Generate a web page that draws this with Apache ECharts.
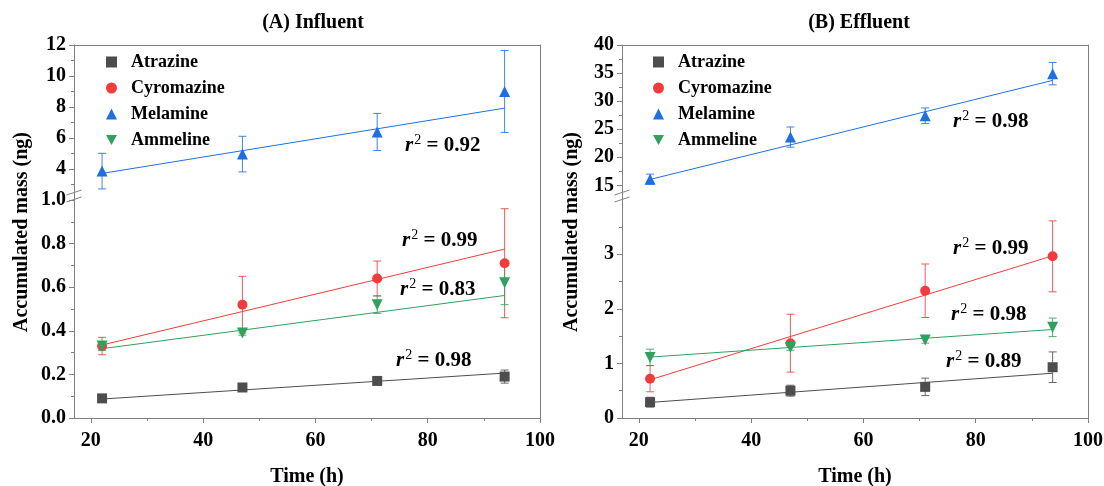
<!DOCTYPE html>
<html>
<head>
<meta charset="utf-8">
<script src="https://cdn.jsdelivr.net/npm/echarts@6/dist/echarts.min.js"></script>
<style>
  html, body { margin: 0; padding: 0; background: #fff; }
  #chart { width: 1104px; height: 486px; }
</style>
</head>
<body>
<div id="chart"></div>
<script>
// 数据
const names = ['Atrazine', 'Cyromazine', 'Melamine', 'Ammeline'];
const time = [22, 47, 71, 93.7];

// (A) Influent
const atrazineA = [0.09, 0.14, 0.17, 0.19];
const atrazineAErr = [0.01, 0.01, 0.01, 0.03];
const cyromazineA = [0.33, 0.52, 0.64, 0.71];
const cyromazineAErr = [0.04, 0.13, 0.08, 0.25];
const melamineA = [3.85, 4.95, 6.38, 9.0];
const melamineAErr = [1.15, 1.15, 1.2, 2.65];
const ammelineA = [0.33, 0.39, 0.52, 0.62];
const ammelineAErr = [0.02, 0.01, 0.04, 0.1];
// fit line values at first / last time
const fitA = [[0.087, 0.206], [0.335, 0.775], [3.7, 7.92], [0.318, 0.562]];
const r2A = ['0.98', '0.99', '0.92', '0.83'];

// (B) Effluent
const atrazineB = [0.29, 0.5, 0.57, 0.93];
const atrazineBErr = [0.09, 0.1, 0.16, 0.28];
const cyromazineB = [0.72, 1.37, 2.33, 2.96];
const cyromazineBErr = [0.24, 0.53, 0.49, 0.65];
const melamineB = [16.1, 23.6, 27.4, 34.9];
const melamineBErr = [0.9, 1.8, 1.4, 2.0];
const ammelineB = [1.11, 1.29, 1.43, 1.66];
const ammelineBErr = [0.15, 0.05, 0.06, 0.17];
const fitB = [[0.285, 0.82], [0.70, 2.97], [16.06, 33.7], [1.115, 1.62]];
const r2B = ['0.89', '0.99', '0.98', '0.98'];

// tick labels
const xTicks = [20, 40, 60, 80, 100];
const xMinor = [30, 50, 70, 90];
const yTicksAUp = [4, 6, 8, 10, 12];
const yMinorAUp = [3, 5, 7, 9, 11];
const yTicksALow = [0, 0.2, 0.4, 0.6, 0.8, 1.0];
const yMinorALow = [0.1, 0.3, 0.5, 0.7, 0.9];
const yTicksBUp = [15, 20, 25, 30, 35, 40];
const yMinorBUp = [17.5, 22.5, 27.5, 32.5, 37.5];
const yTicksBLow = [0, 1, 2, 3];
const yMinorBLow = [0.5, 1.5, 2.5, 3.5];

const COLORS = ['#4d4d4d', '#f03c3c', '#1f6fe0', '#2fa05d'];
const SYMBOLS = ['rect', 'circle', 'triangle', 'path://M0,0L10,0L5,9Z'];
const SIZES = [10, 10, 11, 11];
const FONT = 'Liberation Serif';
const AXIS_COLOR = '#808080';

const myChart = echarts.init(document.getElementById('chart'));

// panel layout
const panels = [
  { left: 74, right: 564, upTop: 45, upH: 147, lowTop: 200, lowH: 218,
    upMin: 2.5, upMax: 12, lowMax: 1.0,
    upTicks: yTicksAUp, upMinor: yMinorAUp, lowTicks: yTicksALow, lowMinor: yMinorALow, lowFmt: v => v.toFixed(1),
    vals: [atrazineA, cyromazineA, melamineA, ammelineA],
    errs: [atrazineAErr, cyromazineAErr, melamineAErr, ammelineAErr],
    fit: fitA, r2: r2A },
  { left: 622, right: 16, upTop: 45, upH: 146, lowTop: 205, lowH: 213,
    upMin: 14, upMax: 40, lowMax: 3.9,
    upTicks: yTicksBUp, upMinor: yMinorBUp, lowTicks: yTicksBLow, lowMinor: yMinorBLow, lowFmt: v => String(v),
    vals: [atrazineB, cyromazineB, melamineB, ammelineB],
    errs: [atrazineBErr, cyromazineBErr, melamineBErr, ammelineBErr],
    fit: fitB, r2: r2B }
];

const grid = [], xAxis = [], yAxis = [], series = [];
const labelStyle = { color: '#000', fontFamily: FONT, fontWeight: 'bold', fontSize: 20 };

function valueAxis(extra) {
  return Object.assign({
    type: 'value', splitLine: { show: false },
    axisLine: { show: false }, axisTick: { show: false }, axisLabel: { show: false }
  }, extra);
}

function errRender(color) {
  return function (params, api) {
    const x = api.value(0), y = api.value(1), e = api.value(2);
    const top = api.coord([x, y + e]);
    const bot = api.coord([x, y - e]);
    const cap = 4;
    const style = { stroke: color, lineWidth: 1, opacity: 0.85 };
    return {
      type: 'group',
      children: [
        { type: 'line', shape: { x1: top[0], y1: top[1], x2: bot[0], y2: bot[1] }, style },
        { type: 'line', shape: { x1: top[0] - cap, y1: top[1], x2: top[0] + cap, y2: top[1] }, style },
        { type: 'line', shape: { x1: bot[0] - cap, y1: bot[1], x2: bot[0] + cap, y2: bot[1] }, style }
      ]
    };
  };
}

panels.forEach((p, pi) => {
  const g0 = grid.length;
  // upper, lower, frame
  grid.push({ left: p.left, right: p.right, top: p.upTop, height: p.upH, outerBoundsMode: 'none' });
  grid.push({ left: p.left, right: p.right, top: p.lowTop, height: p.lowH, outerBoundsMode: 'none' });
  grid.push({ left: p.left, right: p.right, top: p.upTop, height: p.lowTop + p.lowH - p.upTop, outerBoundsMode: 'none' });

  const x0 = xAxis.length;
  // upper x (hidden)
  xAxis.push(valueAxis({ gridIndex: g0, min: 17, max: 100, position: 'bottom' }));
  // lower x (labels + major ticks)
  xAxis.push(valueAxis({
    gridIndex: g0 + 1, min: 17, max: 100, position: 'bottom',
    axisLine: { show: true, onZero: false, lineStyle: { color: AXIS_COLOR } },
    axisTick: { show: true, length: 5, customValues: xTicks, lineStyle: { color: AXIS_COLOR } },
    axisLabel: Object.assign({ show: true, customValues: xTicks, margin: 13 }, labelStyle),
    name: 'Time (h)', nameLocation: 'middle', nameGap: 49,
    nameTextStyle: { color: '#000', fontFamily: FONT, fontWeight: 'bold', fontSize: 20 }
  }));
  // lower x minor ticks
  xAxis.push(valueAxis({
    gridIndex: g0 + 1, min: 17, max: 100, position: 'bottom',
    axisTick: { show: true, length: 3, customValues: xMinor, lineStyle: { color: AXIS_COLOR } }
  }));
  // frame top
  xAxis.push(valueAxis({
    gridIndex: g0 + 2, position: 'top', min: 0, max: 1,
    axisLine: { show: true, onZero: false, lineStyle: { color: AXIS_COLOR } }
  }));

  const y0 = yAxis.length;
  yAxis.push(valueAxis({
    gridIndex: g0, min: p.upMin, max: p.upMax, position: 'left',
    axisTick: { show: true, length: 5, customValues: p.upTicks, lineStyle: { color: AXIS_COLOR } },
    axisLabel: Object.assign({ show: true, customValues: p.upTicks, margin: 8 }, labelStyle)
  }));
  yAxis.push(valueAxis({
    gridIndex: g0, min: p.upMin, max: p.upMax, position: 'left',
    axisTick: { show: true, length: 3, customValues: p.upMinor, lineStyle: { color: AXIS_COLOR } }
  }));
  yAxis.push(valueAxis({
    gridIndex: g0 + 1, min: 0, max: p.lowMax, position: 'left',
    axisTick: { show: true, length: 5, customValues: p.lowTicks, lineStyle: { color: AXIS_COLOR } },
    axisLabel: Object.assign({ show: true, customValues: p.lowTicks, margin: 8, formatter: p.lowFmt }, labelStyle)
  }));
  yAxis.push(valueAxis({
    gridIndex: g0 + 1, min: 0, max: p.lowMax, position: 'left',
    axisTick: { show: true, length: 3, customValues: p.lowMinor, lineStyle: { color: AXIS_COLOR } }
  }));
  // frame left / right
  yAxis.push(valueAxis({
    gridIndex: g0 + 2, min: 0, max: 1, position: 'left',
    axisLine: { show: true, onZero: false, lineStyle: { color: AXIS_COLOR } }
  }));
  yAxis.push(valueAxis({
    gridIndex: g0 + 2, min: 0, max: 1, position: 'right',
    axisLine: { show: true, onZero: false, lineStyle: { color: AXIS_COLOR } }
  }));

  names.forEach((name, i) => {
    const upper = i === 2;
    const xi = upper ? x0 : x0 + 1;
    const yi = upper ? y0 : y0 + 2;
    // fit line
    series.push({
      type: 'line', xAxisIndex: xi, yAxisIndex: yi, symbol: 'none', silent: true, z: 2,
      lineStyle: { color: COLORS[i], width: 1 },
      data: [[time[0], p.fit[i][0]], [time[time.length - 1], p.fit[i][1]]]
    });
    // error bars
    series.push({
      type: 'custom', xAxisIndex: xi, yAxisIndex: yi, z: 3,
      renderItem: errRender(COLORS[i]),
      encode: { x: 0, y: 1 },
      data: time.map((t, k) => [t, p.vals[i][k], p.errs[i][k]])
    });
    // points
    series.push({
      name: name, type: 'scatter', xAxisIndex: xi, yAxisIndex: yi, z: 4,
      symbol: SYMBOLS[i], symbolSize: SIZES[i],
      itemStyle: { color: COLORS[i], opacity: 1 },
      data: time.map((t, k) => [t, p.vals[i][k]])
    });
  });
});

// r² label positions (px)
const r2Pos = [
  [[396, 361], [402, 241], [405, 146], [400, 290]],
  [[946, 362], [953, 249], [953, 122], [951, 315]]
];
const graphic = [];
const rich = {
  i: { fontFamily: FONT, fontStyle: 'italic', fontWeight: 'bold', fontSize: 21, lineHeight: 30, fill: '#000' },
  s: { fontFamily: FONT, fontSize: 14, lineHeight: 14, verticalAlign: 'top', fill: '#000', padding: [2, 0, 0, 1] },
  t: { fontFamily: FONT, fontWeight: 'bold', fontSize: 21, lineHeight: 30, fill: '#000' }
};
panels.forEach((p, pi) => {
  p.r2.forEach((r, i) => {
    graphic.push({
      type: 'text', x: r2Pos[pi][i][0], y: r2Pos[pi][i][1],
      style: { text: '{i|r}{s|2}{t| = ' + r + '}', rich: rich, verticalAlign: 'middle', align: 'left' }
    });
  });
});

// titles
const titles = [['(A) Influent', 313], ['(B) Effluent', 859]];
titles.forEach(t => {
  graphic.push({ type: 'text', x: t[1], y: 23,
    style: { text: t[0], fontFamily: FONT, fontWeight: 'bold', fontSize: 20, fill: '#000', align: 'center', verticalAlign: 'middle' } });
});
// y axis names
[22, 572].forEach(x => {
  graphic.push({ type: 'text', x: x, y: 232, rotation: Math.PI / 2,
    style: { text: 'Accumulated mass (ng)', fontFamily: FONT, fontWeight: 'bold', fontSize: 20, fill: '#000', align: 'center', verticalAlign: 'middle' } });
});
// axis break marks
[[74, 196], [622, 196]].forEach(b => {
  [-3.5, 3.5].forEach(d => {
    graphic.push({ type: 'line', shape: { x1: b[0] - 7.5, y1: b[1] + d + 2.5, x2: b[0] + 7.5, y2: b[1] + d - 2.5 },
      style: { stroke: AXIS_COLOR, lineWidth: 1 } });
  });
});

const legendBase = {
  orient: 'vertical', data: names, itemWidth: 11, itemHeight: 11, itemGap: 8,
  selectedMode: false,
  textStyle: { fontFamily: FONT, fontWeight: 'bold', fontSize: 18, color: '#000', lineHeight: 18, padding: [0, 0, 0, 9] }
};

myChart.setOption({
  animation: false,
  grid: grid,
  xAxis: xAxis,
  yAxis: yAxis,
  legend: [
    Object.assign({ left: 101, top: 48 }, legendBase),
    Object.assign({ left: 648, top: 48 }, legendBase)
  ],
  graphic: graphic,
  series: series
});
</script>
</body>
</html>
